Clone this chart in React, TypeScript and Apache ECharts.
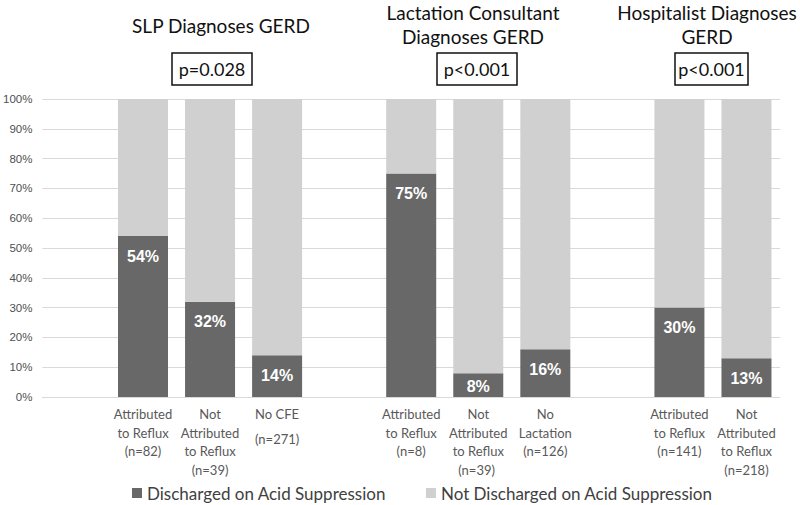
import React, { useEffect, useRef } from "react";
import * as echarts from "echarts";

const categories = [
  "",
  "Attributed\nto Reflux\n(n=82)",
  "Not\nAttributed\nto Reflux\n(n=39)",
  "No CFE\n(n=271)",
  " ",
  "Attributed\nto Reflux\n(n=8)",
  "Not\nAttributed\nto Reflux\n(n=39) ",
  "No\nLactation\n(n=126)",
  "  ",
  "Attributed\nto Reflux\n(n=141)",
  "Not\nAttributed\nto Reflux\n(n=218)",
];
const discharged = [null, 54, 32, 14, null, 75, 8, 16, null, 30, 13];
const notDischarged = [null, 46, 68, 86, null, 25, 92, 84, null, 70, 87];
const yTicks = [0, 10, 20, 30, 40, 50, 60, 70, 80, 90, 100];
const panelTitles = [
  { lines: ["SLP Diagnoses GERD"], x: 221, y: 25 },
  { lines: ["Lactation Consultant", "Diagnoses GERD"], x: 473, y: 12 },
  { lines: ["Hospitalist Diagnoses", "GERD"], x: 707, y: 12 },
];
const pValues = [
  { text: "p=0.028", x: 172, w: 80 },
  { text: "p<0.001", x: 437, w: 80 },
  { text: "p<0.001", x: 675, w: 73 },
];
const seriesNames = ["Discharged on Acid Suppression", "Not Discharged on Acid Suppression"];

const SANS = "Lato, 'Open Sans', sans-serif";
const ARIAL = "'Liberation Sans', Arial, sans-serif";

export default function App() {
  const ref = useRef<HTMLDivElement>(null);
  useEffect(() => {
    document.body.style.margin = "0";
    if (!ref.current) return;
    const chart = echarts.init(ref.current, null, { renderer: "svg" });
    const graphics: any[] = [];
    panelTitles.forEach((t) => {
      t.lines.forEach((ln, i) => {
        graphics.push({
          type: "text",
          x: t.x,
          y: t.y + i * 24,
          style: {
            text: ln,
            fill: "#111",
            font: `19px ${SANS}`,
            align: "center",
            verticalAlign: "middle",
          },
        });
      });
    });
    pValues.forEach((p) => {
      graphics.push({
        type: "rect",
        shape: { x: p.x, y: 53, width: p.w, height: 32 },
        style: { fill: "#fff", stroke: "#111", lineWidth: 1.5 },
      });
      graphics.push({
        type: "text",
        x: p.x + p.w / 2,
        y: 69,
        style: {
          text: p.text,
          fill: "#111",
          font: `18px ${SANS}`,
          align: "center",
          verticalAlign: "middle",
        },
      });
    });
    const dischargedData = discharged.map((v) =>
      v !== null && v < 10 ? { value: v, label: { distance: 5 } } : v
    );
    chart.setOption({
      animation: false,
      grid: { left: 40, right: 20, top: 99, bottom: 108 },
      legend: {
        left: 127,
        top: 478,
        itemWidth: 10,
        itemHeight: 10,
        itemGap: 40,
        icon: "rect",
        textStyle: { fontSize: 17, color: "#404040", fontFamily: SANS, lineHeight: 20 },
        data: seriesNames,
      },
      xAxis: {
        type: "category",
        data: categories,
        axisLine: { lineStyle: { color: "#d9d9d9" } },
        axisTick: { show: false },
        axisLabel: {
          interval: 0,
          margin: 8,
          color: "#595959",
          fontSize: 13,
          fontFamily: SANS,
          lineHeight: 18.5,
          formatter: (v: string) => {
            if (v.startsWith("No CFE")) {
              const [a, b] = v.split("\n");
              return `{a|${a}}\n{b|${b}}`;
            }
            return v;
          },
          rich: {
            a: { fontSize: 13, color: "#595959", fontFamily: SANS, lineHeight: 18.5 },
            b: { fontSize: 13, color: "#595959", fontFamily: SANS, lineHeight: 30 },
          },
        },
      },
      yAxis: {
        type: "value",
        min: yTicks[0],
        max: yTicks[yTicks.length - 1],
        interval: 10,
        axisLabel: {
          formatter: "{value}%",
          color: "#505050",
          fontSize: 11.5,
          fontFamily: ARIAL,
          margin: 10,
        },
        splitLine: { lineStyle: { color: "#d9d9d9" } },
        axisLine: { show: false },
        axisTick: { show: false },
      },
      series: [
        {
          name: seriesNames[0],
          type: "bar",
          stack: "s",
          barWidth: 50,
          data: dischargedData,
          itemStyle: { color: "#686868" },
          label: {
            show: true,
            position: "insideTop",
            distance: 12,
            formatter: "{c}%",
            color: "#fff",
            fontWeight: "bold",
            fontSize: 16,
            fontFamily: ARIAL,
          },
        },
        {
          name: seriesNames[1],
          type: "bar",
          stack: "s",
          barWidth: 50,
          data: notDischarged,
          itemStyle: { color: "#d0d0d0" },
        },
      ],
      graphic: graphics,
    });
    return () => chart.dispose();
  }, []);
  return <div ref={ref} style={{ width: 800, height: 505 }} />;
}
